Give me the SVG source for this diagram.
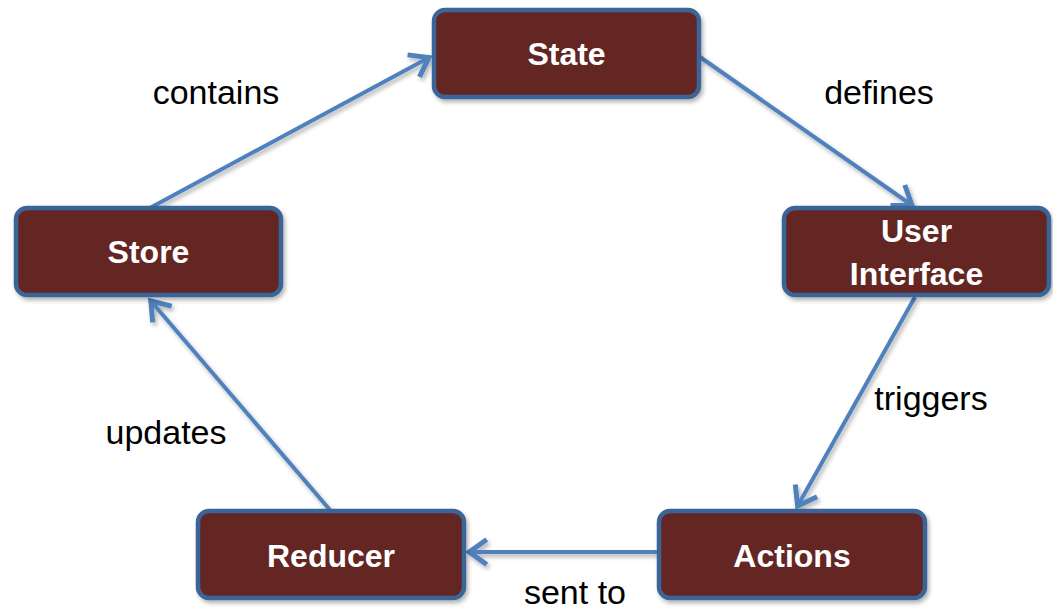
<svg xmlns="http://www.w3.org/2000/svg" width="1053" height="609" viewBox="0 0 1053 609">
<style>
.box{fill:#632523;stroke:#3B6597;stroke-width:4.5;filter:url(#sh)}
.nt{font-family:"Liberation Sans",Arial,sans-serif;font-weight:bold;font-size:32px;fill:#fff;text-anchor:middle}
.lb{font-family:"Liberation Sans",Arial,sans-serif;font-size:34px;fill:#000;text-anchor:middle}
.cn{fill:none;stroke:#4F81BD;stroke-width:4;marker-end:url(#ah);filter:url(#lsh)}
</style>
<defs>
<filter id="sh" x="-20%" y="-20%" width="140%" height="140%">
<feDropShadow dx="2" dy="3" stdDeviation="2" flood-color="#000" flood-opacity="0.3"/>
</filter>
<filter id="lsh" filterUnits="userSpaceOnUse" x="0" y="0" width="1053" height="609">
<feDropShadow dx="2" dy="3" stdDeviation="2" flood-color="#000" flood-opacity="0.3"/>
</filter>
<marker id="ah" markerUnits="userSpaceOnUse" markerWidth="30" markerHeight="30" viewBox="-18 -12 22 24" refX="0" refY="0" orient="auto">
<path d="M-15,-10 L-1,0 L-15,10" fill="none" stroke="#4F81BD" stroke-width="4" stroke-linejoin="miter" stroke-linecap="butt"/>
</marker>
</defs>
<g id="connectors">
<line class="cn" x1="148" y1="209" x2="430" y2="57"/>
<line class="cn" x1="700" y1="57" x2="913" y2="206"/>
<line class="cn" x1="915" y1="297" x2="797" y2="507"/>
<line class="cn" x1="658" y1="552" x2="468" y2="552"/>
<line class="cn" x1="330" y1="510" x2="150" y2="300"/>
<text class="lb" x="216" y="104">contains</text>
<text class="lb" x="879" y="104">defines</text>
<text class="lb" x="931" y="410">triggers</text>
<text class="lb" x="166" y="444">updates</text>
<text class="lb" x="575" y="604">sent to</text>
</g>
<g id="state">
<rect class="box" x="434" y="10" width="265" height="87" rx="11"/>
<text class="nt" x="566.5" y="65">State</text>
</g>
<g id="store">
<rect class="box" x="16" y="208" width="265" height="87" rx="11"/>
<text class="nt" x="148.5" y="263">Store</text>
</g>
<g id="ui">
<rect class="box" x="784" y="208" width="265" height="87" rx="11"/>
<text class="nt" x="916.5" y="242">User</text>
<text class="nt" x="916.5" y="285">Interface</text>
</g>
<g id="reducer">
<rect class="box" x="198" y="511" width="266" height="87" rx="11"/>
<text class="nt" x="331" y="567">Reducer</text>
</g>
<g id="actions">
<rect class="box" x="659" y="511" width="266" height="87" rx="11"/>
<text class="nt" x="792" y="567">Actions</text>
</g>
</svg>
